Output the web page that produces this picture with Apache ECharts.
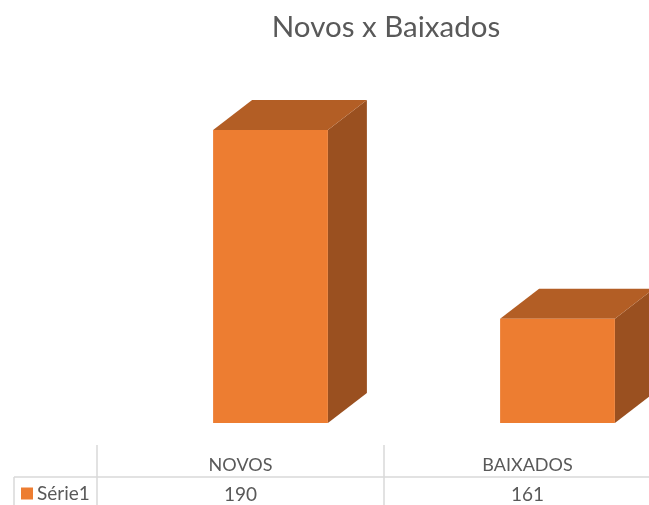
<!DOCTYPE html>
<html><head><meta charset="utf-8">
<style>html,body{margin:0;padding:0;background:#fff}#c{width:649px;height:505px}</style>
<script src="https://cdn.jsdelivr.net/npm/echarts@6/dist/echarts.min.js"></script>
</head><body><div id="c"></div>
<script>
const categories = ['NOVOS', 'BAIXADOS'];
const values = [190, 161];
const seriesName = 'Série1';
const titleText = 'Novos x Baixados';
const FONT = 'Lato, "Open Sans", sans-serif';
const TEXT = '#595959', RULE = '#d9d9d9';
const FRONT = '#ed7d31', TOP = '#b35e25', SIDE = '#9a5020';
const chart = echarts.init(document.getElementById('c'), null, {renderer: 'canvas'});
const DX = 39, DY = 30, SHIFT = 30;
function rule(x1, y1, x2, y2) {
  return {type: 'line', silent: true, shape: {x1, y1, x2, y2}, style: {stroke: RULE, lineWidth: 1.5}};
}
chart.setOption({
  animation: false,
  backgroundColor: '#fff',
  title: {text: titleText, left: 381, top: 7, textAlign: 'center',
    textStyle: {fontFamily: FONT, fontSize: 29.5, fontWeight: 'normal', color: TEXT}},
  legend: {left: 21, top: 484, padding: 0, itemWidth: 12, itemHeight: 12, itemGap: 0, icon: 'rect',
    textStyle: {fontFamily: FONT, fontSize: 19, color: TEXT, padding: [0, 0, 0, -1]},
    data: [{name: seriesName, itemStyle: {color: FRONT}}]},
  grid: {left: 97, top: 130, width: 574, height: 293, outerBoundsMode: 'none', containLabel: false},
  xAxis: [
    {type: 'category', data: categories, position: 'bottom',
      axisLine: {show: false}, axisTick: {show: false}, splitLine: {show: false},
      axisLabel: {margin: 33, interval: 0, fontFamily: FONT, fontSize: 18, color: TEXT}},
    {type: 'category', data: values.map(String), position: 'bottom',
      axisLine: {show: false}, axisTick: {show: false}, splitLine: {show: false},
      axisLabel: {margin: 62, interval: 0, fontFamily: FONT, fontSize: 19, color: TEXT}}
  ],
  yAxis: {type: 'value', min: 145, max: 190, show: false},
  series: [{
    type: 'custom', name: seriesName, xAxisIndex: 0, clip: false,
    itemStyle: {color: FRONT},
    data: values.map((v, i) => [i, v]),
    encode: {x: 0, y: 1},
    renderItem(params, api) {
      const i = api.value(0), v = api.value(1);
      const top = api.coord([i, v]), base = api.coord([i, 145]);
      const w = api.size([1, 0])[0] * 0.4;
      const l = top[0] + SHIFT - w / 2, r = l + w, t = top[1], b = base[1];
      const poly = (points, fill) => ({type: 'polygon', shape: {points}, style: {fill}});
      return {type: 'group', children: [
        poly([[r, t], [r + DX, t - DY], [r + DX, b - DY], [r, b]], SIDE),
        poly([[l, t], [l + DX, t - DY], [r + DX, t - DY], [r, t]], TOP),
        {type: 'rect', shape: {x: l, y: t, width: w, height: b - t}, style: {fill: FRONT}}
      ]};
    }
  }],
  graphic: [
    rule(14, 477, 649, 477),
    rule(14, 477, 14, 505),
    rule(97, 445, 97, 505),
    rule(384, 445, 384, 505)
  ]
});
</script></body></html>
